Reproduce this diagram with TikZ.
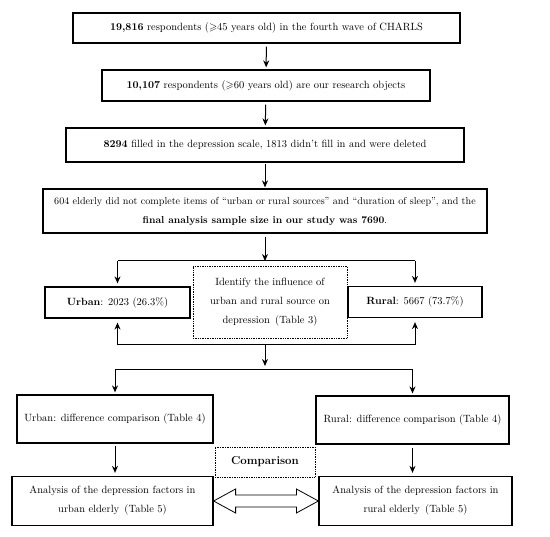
\documentclass[tikz,border=0pt]{standalone}
\usepackage{amssymb}
\usetikzlibrary{arrows.meta,calc}
\begin{document}
\begin{tikzpicture}[x=1pt,y=-1pt,
  every node/.style={font=\fontsize{10.5}{19}\selectfont, inner sep=0pt, align=center},
  box/.style={draw, line width=1.2pt, rectangle},
  dotbox/.style={draw, densely dotted, line width=0.7pt, rectangle},
  arr/.style={line width=1pt, -{Stealth[length=7pt,width=6pt]}},
  ln/.style={line width=1pt},
  hollow/.style={draw, line width=0.8pt, fill=white}]
\useasboundingbox (0,0) rectangle (550,537);
\node[box, minimum width=387, minimum height=30] (b1) at (266.5,28) {\textbf{19,816} respondents ($\geqslant$45 years old) in the fourth wave of CHARLS};
\node[box, minimum width=328, minimum height=31] (b2) at (266,85.5) {\textbf{10,107} respondents ($\geqslant$60 years old) are our research objects};
\node[box, minimum width=398, minimum height=34] (b3) at (265,145) {\textbf{8294} filled in the depression scale, 1813 didn't fill in and were deleted};
\node[box, minimum width=444, minimum height=44, font=\fontsize{10.1}{19}\selectfont] (b4) at (265,211) {604 elderly did not complete items of ``urban or rural sources'' and ``duration of sleep'', and the\\ \textbf{final analysis sample size in our study was 7690}.};
\node[box, minimum width=145, minimum height=31] (urban) at (117.5,302.5) {\textbf{Urban}: 2023 (26.3\%)};
\node[box, minimum width=134, minimum height=31] (rural) at (415,302) {\textbf{Rural}: 5667 (73.7\%)};
\node[dotbox, minimum width=154, minimum height=72] (infl) at (270,302) {Identify the influence of\\ urban and rural source on\\ depression\, (Table 3)};
\node[box, minimum width=196, minimum height=48] (udiff) at (115,419) {Urban: difference comparison (Table 4)};
\node[box, minimum width=193, minimum height=48] (rdiff) at (412.5,420) {Rural: difference comparison (Table 4)};
\node[dotbox, minimum width=100, minimum height=30, font=\fontsize{11.5}{19}\selectfont\bfseries] (comp) at (265,462) {Comparison};
\node[box, minimum width=201, minimum height=49] (aurban) at (112.5,501) {Analysis of the depression factors in\\ urban elderly\, (Table 5)};
\node[box, minimum width=193, minimum height=49] (arural) at (415.5,501) {Analysis of the depression factors in\\ rural elderly\, (Table 5)};
\coordinate (j1) at (265,261);
\coordinate (j2) at (265,345);
\coordinate (j3) at (265,370);
\draw[arr, shorten <=3pt, shorten >=2pt] (b1) -- (b2);
\draw[arr, shorten <=3pt, shorten >=2pt] (b2) -- (b3);
\draw[arr, shorten <=1pt, shorten >=1pt] (b3) -- (b4);
\draw[arr, shorten <=3pt] (b4) -- (j1);
\draw[ln] (j1 -| urban.north) -- (j1 -| rural.north);
\draw[arr, shorten >=3pt] (j1 -| urban.north) -- (urban.north);
\draw[arr, shorten >=3pt] (j1 -| rural.north) -- (rural.north);
\draw[ln] (j2 -| urban.south) -- (j2 -| rural.south);
\draw[arr, shorten >=4pt] (j2 -| urban.south) -- (urban.south);
\draw[arr, shorten >=4pt] (j2 -| rural.south) -- (rural.south);
\draw[arr] (j2) -- ($(j3)+(0,-4)$);
\draw[ln] (j3 -| udiff.north) -- (j3 -| rdiff.north);
\draw[arr, shorten >=2pt] (j3 -| udiff.north) -- (udiff.north);
\draw[arr, shorten >=2pt] (j3 -| rdiff.north) -- (rdiff.north);
\draw[arr, shorten <=2pt, shorten >=3pt] (udiff.south) -- (udiff.south |- aurban.north);
\draw[arr, shorten <=3pt, shorten >=3pt] (rdiff.south) -- (rdiff.south |- arural.north);
\draw[hollow] (aurban.east) -- ++(22,-12) -- ++(0,6) -- ($(arural.west)+(-22,-6)$) -- ++(0,-6) -- (arural.west) -- ++(-22,12) -- ++(0,-6) -- ($(aurban.east)+(22,6)$) -- ++(0,6) -- cycle;
\end{tikzpicture}
\end{document}
